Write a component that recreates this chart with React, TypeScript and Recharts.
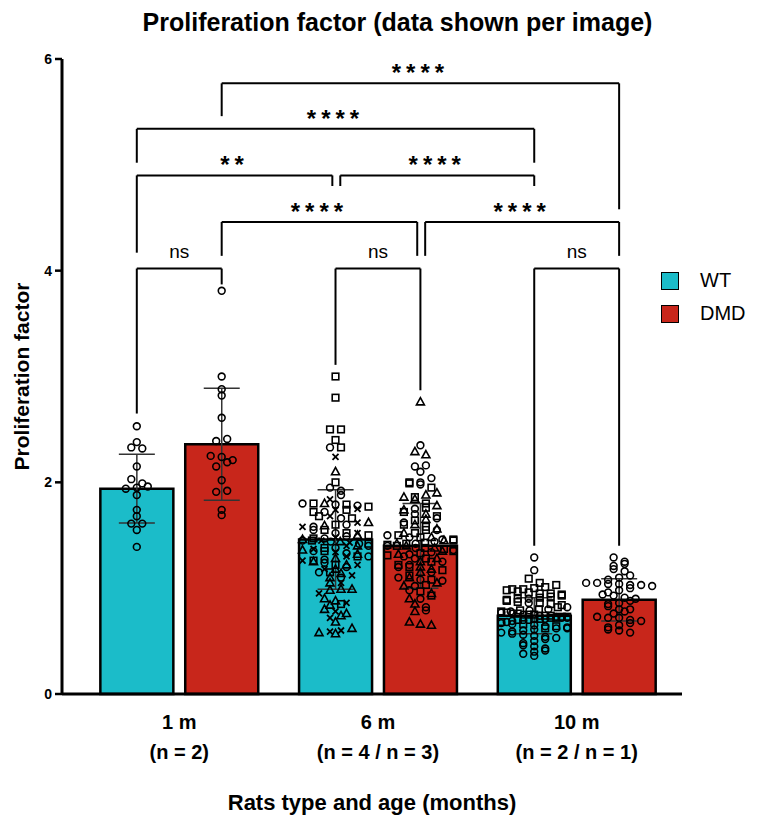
import React from "react";
import {
  ComposedChart,
  Bar,
  Cell,
  ErrorBar,
  Scatter,
  XAxis,
  YAxis,
  ReferenceLine,
  Legend
} from "recharts";

const FONT = "'Liberation Sans', Arial, sans-serif";
const WT_COLOR = "#1BBCC9";
const DMD_COLOR = "#C8261B";

// bar layout along a numeric x axis: group index +/- half pair spacing
const X_MIN = -0.59;
const X_MAX = 2.53;
const barX = [-0.2136, 0.2136, 0.7864, 1.2136, 1.7864, 2.2136];
const barGroup = ["WT", "DMD", "WT", "DMD", "WT", "DMD"];
const barMean = [1.94, 2.36, 1.46, 1.4, 0.74, 0.89];
const barSd = [0.325, 0.53, 0.47, 0.4, 0.17, 0.2];

const groupX = [0, 1, 2];
const groupAge = ["1 m", "6 m", "10 m"];
const groupN = ["(n = 2)", "(n = 4 / n = 3)", "(n = 2 / n = 1)"];

const legendNames = ["WT", "DMD"];
const legendColors = [WT_COLOR, DMD_COLOR];

// per-image values, one array per animal
const wt1m = [2.53, 2.38, 2.33, 2.32, 2.15, 2.03, 1.99, 1.96, 1.95, 1.94, 1.88, 1.74, 1.68, 1.61, 1.61, 1.55, 1.39];
const dmd1m = [3.81, 3.0, 2.88, 2.82, 2.61, 2.41, 2.39, 2.25, 2.24, 2.21, 2.19, 2.15, 2.02, 1.92, 1.91, 1.74, 1.69];

const wt6mCircle = [2.33, 1.95, 1.92, 1.88, 1.8, 1.79, 1.78, 1.72, 1.66, 1.6, 1.58, 1.55, 1.52, 1.49, 1.47, 1.45, 1.44, 1.42, 1.4, 1.38, 1.35, 1.33, 1.3, 1.27, 1.24, 1.2, 1.15, 1.1];
const wt6mSquare = [3.0, 2.8, 2.5, 2.5, 2.4, 2.33, 2.0, 1.8, 1.79, 1.77, 1.74, 1.72, 1.68, 1.66, 1.6, 1.55, 1.52, 1.5, 1.47, 1.45, 1.42, 1.38, 1.35, 1.3, 1.26, 1.22, 1.15, 0.85];
const wt6mTriangle = [2.1, 1.8, 1.62, 1.59, 1.5, 1.46, 1.44, 1.4, 1.36, 1.32, 1.28, 1.25, 1.22, 1.18, 1.14, 1.1, 1.05, 0.99, 0.99, 0.98, 0.9, 0.88, 0.84, 0.8, 0.76, 0.74, 0.68, 0.62, 0.58, 0.57];
const wt6mCross = [2.24, 1.84, 1.75, 1.74, 1.68, 1.62, 1.58, 1.52, 1.48, 1.45, 1.43, 1.4, 1.37, 1.34, 1.3, 1.26, 1.22, 1.18, 1.12, 1.05, 0.95, 0.86, 0.78, 0.72, 0.6, 0.59];

const dmd6mCircle = [2.35, 2.16, 2.15, 2.1, 2.04, 2.0, 1.98, 1.75, 1.7, 1.66, 1.62, 1.55, 1.5, 1.48, 1.46, 1.44, 1.42, 1.4, 1.38, 1.36, 1.34, 1.32, 1.3, 1.28, 1.25, 1.22, 1.2, 1.15, 1.1, 1.08, 1.07, 1.02, 0.98, 0.9, 0.82, 0.79];
const dmd6mSquare = [2.0, 1.99, 1.95, 1.86, 1.8, 1.76, 1.72, 1.68, 1.64, 1.6, 1.58, 1.55, 1.52, 1.5, 1.48, 1.46, 1.45, 1.43, 1.42, 1.41, 1.4, 1.38, 1.37, 1.35, 1.33, 1.31, 1.28, 1.25, 1.22, 1.2, 1.17, 1.12, 1.08, 1.03, 0.97, 0.93];
const dmd6mTriangle = [2.76, 2.29, 2.26, 1.9, 1.88, 1.86, 1.84, 1.78, 1.74, 1.7, 1.65, 1.6, 1.56, 1.52, 1.48, 1.45, 1.42, 1.4, 1.38, 1.35, 1.32, 1.28, 1.25, 1.2, 1.18, 1.15, 1.1, 1.05, 1.02, 0.95, 0.9, 0.85, 0.78, 0.68, 0.66, 0.65];

const wt10mCircle = [1.29, 1.17, 0.9, 0.86, 0.82, 0.8, 0.79, 0.78, 0.77, 0.76, 0.75, 0.74, 0.73, 0.72, 0.72, 0.71, 0.7, 0.7, 0.69, 0.68, 0.67, 0.66, 0.65, 0.64, 0.63, 0.62, 0.62, 0.61, 0.6, 0.59, 0.58, 0.57, 0.56, 0.55, 0.54, 0.53, 0.52, 0.5, 0.48, 0.46, 0.45, 0.43, 0.41, 0.4, 0.38, 0.36];
const wt10mSquare = [1.09, 1.05, 1.03, 1.01, 1.0, 0.99, 0.99, 0.98, 0.97, 0.96, 0.95, 0.95, 0.94, 0.93, 0.92, 0.91, 0.9, 0.89, 0.88, 0.87, 0.86, 0.85, 0.84, 0.82, 0.8, 0.79, 0.78, 0.77, 0.76, 0.75, 0.75, 0.74, 0.74, 0.73, 0.73, 0.72, 0.72, 0.71, 0.71, 0.7, 0.68, 0.66, 0.64, 0.62];
const dmd10m = [1.29, 1.25, 1.23, 1.21, 1.18, 1.16, 1.12, 1.1, 1.08, 1.05, 1.05, 1.04, 1.04, 1.03, 1.03, 1.02, 1.0, 0.98, 0.96, 0.94, 0.93, 0.91, 0.9, 0.88, 0.86, 0.85, 0.83, 0.8, 0.8, 0.78, 0.76, 0.73, 0.72, 0.72, 0.7, 0.69, 0.67, 0.65, 0.63, 0.61, 0.6, 0.58];

const pointSets = [
  [{ shape: "circle", values: wt1m }],
  [{ shape: "circle", values: dmd1m }],
  [
    { shape: "circle", values: wt6mCircle },
    { shape: "square", values: wt6mSquare },
    { shape: "triangle", values: wt6mTriangle },
    { shape: "cross", values: wt6mCross }
  ],
  [
    { shape: "circle", values: dmd6mCircle },
    { shape: "square", values: dmd6mSquare },
    { shape: "triangle", values: dmd6mTriangle }
  ],
  [
    { shape: "circle", values: wt10mCircle },
    { shape: "square", values: wt10mSquare }
  ],
  [{ shape: "circle", values: dmd10m }]
];

// significance brackets: [from bar, to bar, x nudge left, x nudge right, height, left leg end, right leg end, label]
const brackets: [number, number, number, number, number, number, number, string][] = [
  [1, 5, 0, 0, 5.77, 5.46, 4.58, "****"],
  [0, 4, 0, 0, 5.34, 5.02, 5.02, "****"],
  [0, 2, 0, -0.016, 4.9, 4.17, 4.8, "**"],
  [2, 4, 0.024, 0, 4.9, 4.8, 4.8, "****"],
  [1, 3, 0, -0.016, 4.46, 4.14, 4.14, "****"],
  [3, 5, 0.024, 0, 4.46, 4.14, 4.14, "****"],
  [0, 1, 0, 0, 4.02, 2.65, 3.87, "ns"],
  [2, 3, 0, 0, 4.02, 3.11, 2.87, "ns"],
  [4, 5, 0, 0, 4.02, 1.4, 1.4, "ns"]
];

const CHART_W = 772;
const CHART_H = 817;
const PLOT_LEFT = 62;
const PLOT_RIGHT_MARGIN = 90;
const PLOT_TOP = 59;
const PLOT_H = 635;
const PX_PER_X = (CHART_W - PLOT_LEFT - PLOT_RIGHT_MARGIN) / (X_MAX - X_MIN);
const PX_PER_Y = PLOT_H / 6;

type Pt = { x: number; y: number; shape: string };

// simple row-based swarm so the points spread sideways like the original
function swarm(sets: { shape: string; values: number[] }[], cx: number): Pt[] {
  const all = sets.flatMap((s) => s.values.map((v) => ({ y: v, shape: s.shape })));
  all.sort((a, b) => b.y - a.y);
  const rows: { y: number; shape: string }[][] = [];
  let cur: { y: number; shape: string }[] = [];
  let start = Infinity;
  for (const p of all) {
    if ((start - p.y) * PX_PER_Y > 5) {
      if (cur.length) rows.push(cur);
      cur = [p];
      start = p.y;
    } else cur.push(p);
  }
  if (cur.length) rows.push(cur);
  const out: Pt[] = [];
  rows.forEach((row, ri) => {
    const k = row.length;
    const step = k > 1 ? Math.min(11, 66 / (k - 1)) : 0;
    const order = ri % 2 ? [...row].reverse() : row;
    order.forEach((p, i) => {
      out.push({ x: cx + ((i - (k - 1) / 2) * step) / PX_PER_X, y: p.y, shape: p.shape });
    });
  });
  return out;
}

const barData = barX.map((x, i) => ({ x, mean: barMean[i], sd: barSd[i], group: barGroup[i] }));
const swarms = pointSets.map((sets, i) => swarm(sets, barX[i]));

function Marker(props: any) {
  const { cx, cy, payload } = props;
  if (cx == null || cy == null) return null;
  const st = { fill: "none", stroke: "#000", strokeWidth: 1.6 };
  switch (payload.shape) {
    case "circle":
      return <circle cx={cx} cy={cy} r={3.4} {...st} />;
    case "square":
      return <rect x={cx - 3.3} y={cy - 3.3} width={6.6} height={6.6} {...st} />;
    case "triangle":
      return <path d={`M${cx},${cy - 4.3}L${cx + 4},${cy + 3}L${cx - 4},${cy + 3}Z`} {...st} />;
    default:
      return (
        <path
          d={`M${cx - 3},${cy - 3}L${cx + 3},${cy + 3}M${cx + 3},${cy - 3}L${cx - 3},${cy + 3}`}
          {...st}
          strokeWidth={1.8}
        />
      );
  }
}

function GroupTick(props: any) {
  const { x, y, payload } = props;
  const i = groupX.indexOf(payload.value);
  if (i < 0) return null;
  return (
    <text x={x} y={y} textAnchor="middle" fontFamily={FONT} fontWeight="bold" fontSize={20} fill="#000">
      <tspan x={x} dy={23}>{groupAge[i]}</tspan>
      <tspan x={x} dy={30}>{groupN[i]}</tspan>
    </text>
  );
}

function LegendBox() {
  return (
    <div style={{ fontFamily: FONT, fontSize: 20, color: "#000" }}>
      {legendNames.map((n, i) => (
        <div key={n} style={{ display: "flex", alignItems: "center", height: 33 }}>
          <span
            style={{
              width: 18,
              height: 18,
              background: legendColors[i],
              border: "1.5px solid #000",
              boxSizing: "border-box",
              marginRight: 21
            }}
          />
          <span>{n}</span>
        </div>
      ))}
    </div>
  );
}

export default function App() {
  return (
    <div style={{ position: "absolute", left: 0, top: 0, width: CHART_W, height: CHART_H, background: "#fff" }}>
      <div
        style={{
          position: "absolute",
          top: 7,
          left: 0,
          width: CHART_W,
          paddingLeft: 23,
          boxSizing: "border-box",
          textAlign: "center",
          fontFamily: FONT,
          fontWeight: "bold",
          fontSize: 25,
          lineHeight: "30px",
          color: "#000"
        }}
      >
        Proliferation factor (data shown per image)
      </div>
      <ComposedChart
        width={CHART_W}
        height={CHART_H}
        data={barData}
        margin={{ top: PLOT_TOP, right: PLOT_RIGHT_MARGIN, bottom: 0, left: 0 }}
      >
        <XAxis
          dataKey="x"
          type="number"
          domain={[X_MIN, X_MAX]}
          allowDataOverflow
          ticks={barX}
          interval={0}
          tick={false}
          tickSize={7}
          height={12}
          axisLine={{ stroke: "#000", strokeWidth: 3 }}
          tickLine={{ stroke: "#000", strokeWidth: 2.5 }}
        />
        <XAxis
          xAxisId="grp"
          dataKey="x"
          type="number"
          domain={[X_MIN, X_MAX]}
          allowDataOverflow
          ticks={groupX}
          interval={0}
          axisLine={false}
          tickLine={false}
          tickSize={0}
          tickMargin={0}
          height={111}
          tick={<GroupTick />}
          label={{
            value: "Rats type and age (months)",
            position: "insideBottom",
            offset: 7,
            fontFamily: FONT,
            fontWeight: "bold",
            fontSize: 22,
            fill: "#000"
          }}
        />
        <XAxis xAxisId="pts" dataKey="x" type="number" domain={[X_MIN, X_MAX]} allowDataOverflow hide />
        <YAxis
          type="number"
          domain={[0, 6]}
          ticks={[0, 2, 4, 6]}
          width={PLOT_LEFT}
          tickSize={7}
          tickMargin={3}
          axisLine={{ stroke: "#000", strokeWidth: 3 }}
          tickLine={{ stroke: "#000", strokeWidth: 2.5 }}
          tick={{ fill: "#000", fontFamily: FONT, fontWeight: "bold", fontSize: 14 }}
          label={{
            value: "Proliferation factor",
            angle: -90,
            position: "insideLeft",
            offset: 22,
            fontFamily: FONT,
            fontWeight: "bold",
            fontSize: 21,
            fill: "#000",
            style: { textAnchor: "middle" }
          }}
        />
        <Bar dataKey="mean" barSize={73} stroke="#000" strokeWidth={2.5} isAnimationActive={false}>
          {barData.map((d, i) => (
            <Cell key={i} fill={d.group === "WT" ? WT_COLOR : DMD_COLOR} />
          ))}
          <ErrorBar dataKey="sd" width={18} stroke="#333" strokeWidth={1.5} direction="y" />
        </Bar>
        {swarms.map((pts, i) => (
          <Scatter
            key={i}
            xAxisId="pts"
            data={pts}
            dataKey="y"
            shape={<Marker />}
            isAnimationActive={false}
          />
        ))}
        {brackets.map(([a, b, na, nb, h, la, lb, label], i) => {
          const x1 = barX[a] + na;
          const x2 = barX[b] + nb;
          const ls = { stroke: "#000", strokeWidth: 2 };
          const isNs = label === "ns";
          return (
            <React.Fragment key={i}>
              <ReferenceLine segment={[{ x: x1, y: la }, { x: x1, y: h }]} {...ls} />
              <ReferenceLine segment={[{ x: x2, y: lb }, { x: x2, y: h }]} {...ls} />
              <ReferenceLine
                segment={[{ x: x1, y: h }, { x: x2, y: h }]}
                {...ls}
                label={{
                  value: label,
                  position: "top",
                  offset: isNs ? 11 : 2,
                  fontFamily: FONT,
                  fontSize: isNs ? 19 : 24,
                  fontWeight: isNs ? "normal" : "bold",
                  letterSpacing: isNs ? 0 : 5,
                  fill: "#000"
                }}
              />
            </React.Fragment>
          );
        })}
        <Legend
          layout="vertical"
          align="center"
          verticalAlign="middle"
          wrapperStyle={{ left: 661, top: 264, width: 110 }}
          content={<LegendBox />}
        />
      </ComposedChart>
    </div>
  );
}
